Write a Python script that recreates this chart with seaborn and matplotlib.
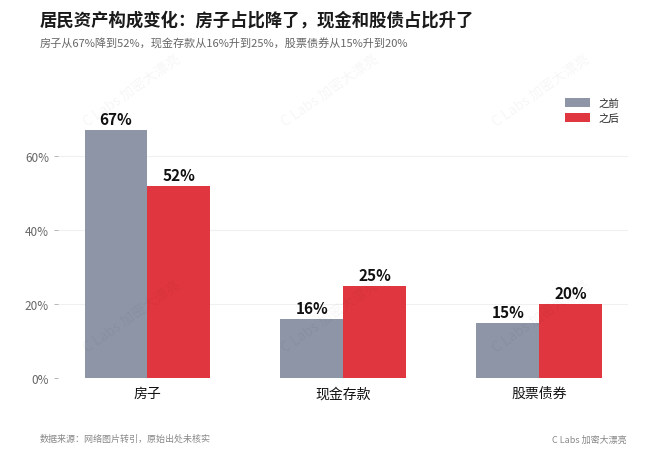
import seaborn as sns
import matplotlib.pyplot as plt
import pandas as pd

# data
categories = ['房子', '现金存款', '股票债券']
before = [67, 16, 15]
after = [52, 25, 20]
series = ['之前', '之后']

df = pd.DataFrame({
    'cat': categories * 2,
    'period': [series[0]] * 3 + [series[1]] * 3,
    'value': before + after,
})

sns.set_theme(style='white')
plt.rcParams['font.family'] = ['Noto Sans CJK SC', 'DejaVu Sans']

fig = plt.figure(figsize=(6.6, 4.52), dpi=100)
ax = fig.add_axes([0.088, 0.1615, 0.864, 0.64])

palette = {'之前': '#8e95a6', '之后': '#e0363f'}
sns.barplot(data=df, x='cat', y='value', hue='period', palette=palette,
            width=0.64, saturation=1, ax=ax, edgecolor='none')

for cont in ax.containers:
    ax.bar_label(cont, labels=[f'{v:.0f}%' for v in cont.datavalues],
                 padding=2, fontsize=11, fontweight='bold', color='#111111')

ax.set_xlim(-0.455, 2.455)
ax.set_ylim(0, 78.2)
ax.set_yticks([0, 20, 40, 60])
ax.set_yticklabels(['0%', '20%', '40%', '60%'])
ax.yaxis.grid(True, color='#f0f0f0', linewidth=0.8)
ax.set_axisbelow(True)
ax.tick_params(axis='y', labelsize=8.5, labelcolor='#666666', length=3,
               color='#aaaaaa', left=True, width=0.6)
ax.tick_params(axis='x', labelsize=10, labelcolor='#111111', length=0, pad=6)
ax.set_xlabel('')
ax.set_ylabel('')
for s in ax.spines.values():
    s.set_visible(False)

leg = ax.legend(loc='upper right', frameon=False, fontsize=7.5,
                handlelength=2.4, handleheight=0.9, bbox_to_anchor=(1.0, 1.0))

# title, subtitle, footer
fig.text(0.06, 0.955, '居民资产构成变化：房子占比降了，现金和股债占比升了',
         fontsize=12.5, fontweight='bold', color='#1a1a1a', va='center')
fig.text(0.06, 0.902, '房子从67%降到52%，现金存款从16%升到25%，股票债券从15%升到20%',
         fontsize=8, color='#666666', va='center')
fig.text(0.06, 0.027, '数据来源：网络图片转引，原始出处未核实',
         fontsize=6.5, color='#888888', va='center')
fig.text(0.95, 0.027, 'C Labs 加密大漂亮', fontsize=6.5, color='#888888',
         va='center', ha='right')

# watermark
for wx, wy in [(0.2, 0.8), (0.5, 0.8), (0.82, 0.8), (0.2, 0.3), (0.5, 0.3), (0.82, 0.3)]:
    fig.text(wx, wy, 'C Labs 加密大漂亮', fontsize=10, color='#000000', alpha=0.04,
             rotation=35, ha='center', va='center')

fig.savefig('out.png', dpi=100)
